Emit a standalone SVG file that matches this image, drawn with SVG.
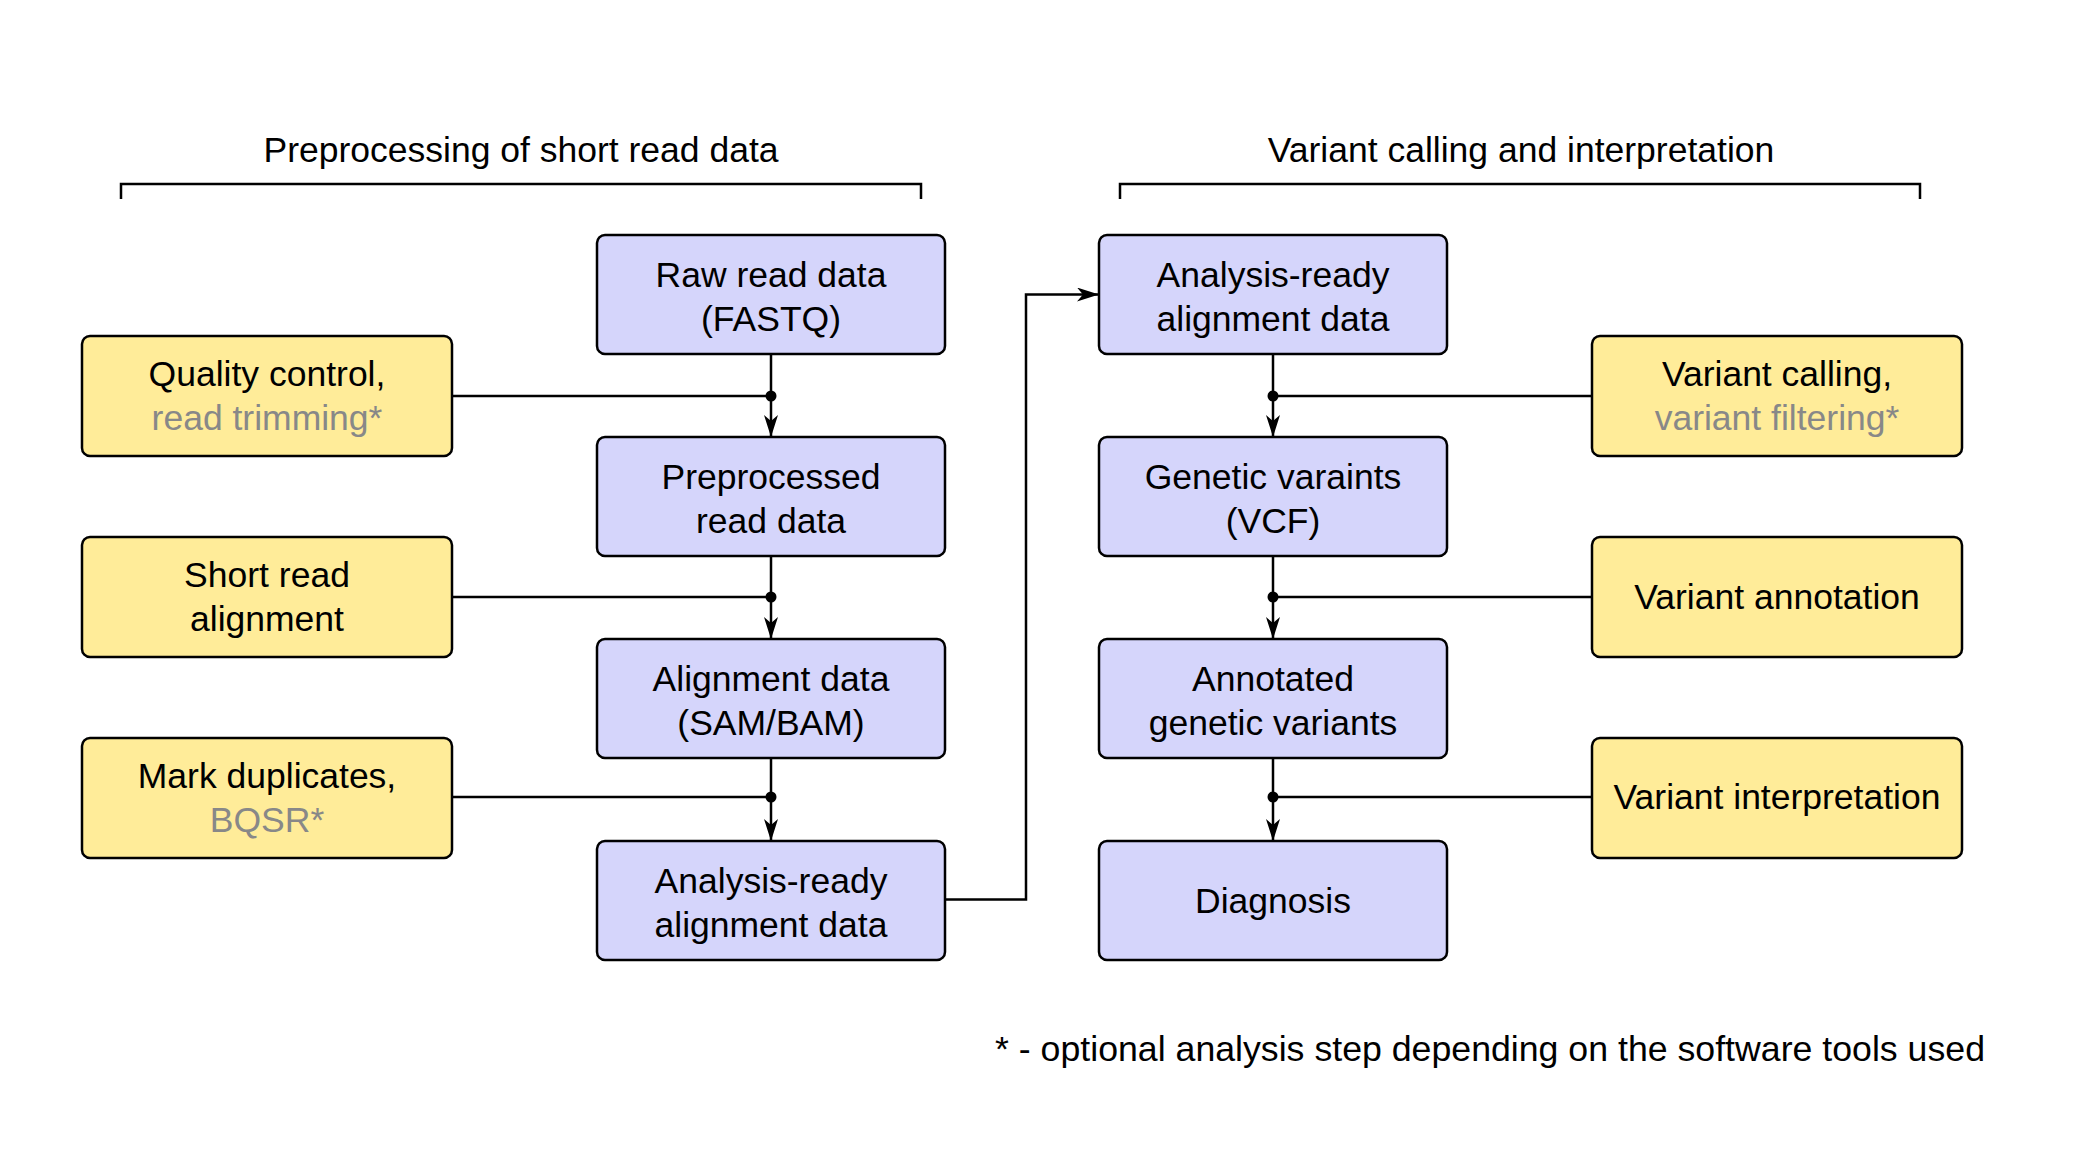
<svg xmlns="http://www.w3.org/2000/svg" width="2093" height="1163" viewBox="0 0 2093 1163">
<style>
text{font-family:"Liberation Sans",Arial,Helvetica,sans-serif;font-size:35.5px;fill:#000;text-anchor:middle}
.hd{font-size:35.5px}
.fn{font-size:35.7px;text-anchor:start}
.g{fill:#888888}
.blue{fill:#D5D5FB;stroke:#000;stroke-width:2.5}
.yel{fill:#FFEC99;stroke:#000;stroke-width:2.5}
.ln{fill:none;stroke:#000;stroke-width:2.5}
.br{fill:none;stroke:#000;stroke-width:2.5}
</style>
<defs>
<marker id="arr" markerUnits="userSpaceOnUse" markerWidth="24" markerHeight="14" viewBox="0 0 24 14" refX="22" refY="7" orient="auto">
<path d="M0,0 L22,7 L0,14 L6,7 Z" fill="#000"/>
</marker>
</defs>
<rect width="2093" height="1163" fill="#fff"/>

<g id="headings">
<text class="hd" x="521" y="162">Preprocessing of short read data</text>
<path class="br" d="M121,199 V184 H921 V199"/>
<text class="hd" x="1521" y="162">Variant calling and interpretation</text>
<path class="br" d="M1120,199 V184 H1920 V199"/>
</g>

<g id="connectors">
<line class="ln" x1="771" y1="354" x2="771" y2="437" marker-end="url(#arr)"/>
<line class="ln" x1="771" y1="556" x2="771" y2="639" marker-end="url(#arr)"/>
<line class="ln" x1="771" y1="758" x2="771" y2="841" marker-end="url(#arr)"/>
<line class="ln" x1="452" y1="396" x2="771" y2="396"/>
<line class="ln" x1="452" y1="597" x2="771" y2="597"/>
<line class="ln" x1="452" y1="797" x2="771" y2="797"/>
<circle cx="771" cy="396" r="5.5"/>
<circle cx="771" cy="597" r="5.5"/>
<circle cx="771" cy="797" r="5.5"/>
<path class="ln" d="M945,899.5 H1026 V294.5 H1099" marker-end="url(#arr)"/>
<line class="ln" x1="1273" y1="354" x2="1273" y2="437" marker-end="url(#arr)"/>
<line class="ln" x1="1273" y1="556" x2="1273" y2="639" marker-end="url(#arr)"/>
<line class="ln" x1="1273" y1="758" x2="1273" y2="841" marker-end="url(#arr)"/>
<line class="ln" x1="1273" y1="396" x2="1592" y2="396"/>
<line class="ln" x1="1273" y1="597" x2="1592" y2="597"/>
<line class="ln" x1="1273" y1="797" x2="1592" y2="797"/>
<circle cx="1273" cy="396" r="5.5"/>
<circle cx="1273" cy="597" r="5.5"/>
<circle cx="1273" cy="797" r="5.5"/>
</g>

<g id="raw">
<rect class="blue" x="597" y="235" width="348" height="119" rx="8"/>
<text x="771" y="287">Raw read data</text>
<text x="771" y="331">(FASTQ)</text>
</g>
<g id="preprocessed">
<rect class="blue" x="597" y="437" width="348" height="119" rx="8"/>
<text x="771" y="489">Preprocessed</text>
<text x="771" y="533">read data</text>
</g>
<g id="alignment">
<rect class="blue" x="597" y="639" width="348" height="119" rx="8"/>
<text x="771" y="691">Alignment data</text>
<text x="771" y="735">(SAM/BAM)</text>
</g>
<g id="analysis-left">
<rect class="blue" x="597" y="841" width="348" height="119" rx="8"/>
<text x="771" y="893">Analysis-ready</text>
<text x="771" y="937">alignment data</text>
</g>

<g id="qc">
<rect class="yel" x="82" y="336" width="370" height="120" rx="8"/>
<text x="267" y="386">Quality control,</text>
<text class="g" x="267" y="430">read trimming*</text>
</g>
<g id="sra">
<rect class="yel" x="82" y="537" width="370" height="120" rx="8"/>
<text x="267" y="587">Short read</text>
<text x="267" y="631">alignment</text>
</g>
<g id="markdup">
<rect class="yel" x="82" y="738" width="370" height="120" rx="8"/>
<text x="267" y="788">Mark duplicates,</text>
<text class="g" x="267" y="832">BQSR*</text>
</g>

<g id="analysis-right">
<rect class="blue" x="1099" y="235" width="348" height="119" rx="8"/>
<text x="1273" y="287">Analysis-ready</text>
<text x="1273" y="331">alignment data</text>
</g>
<g id="vcf">
<rect class="blue" x="1099" y="437" width="348" height="119" rx="8"/>
<text x="1273" y="489">Genetic varaints</text>
<text x="1273" y="533">(VCF)</text>
</g>
<g id="annotated">
<rect class="blue" x="1099" y="639" width="348" height="119" rx="8"/>
<text x="1273" y="691">Annotated</text>
<text x="1273" y="735">genetic variants</text>
</g>
<g id="diagnosis">
<rect class="blue" x="1099" y="841" width="348" height="119" rx="8"/>
<text x="1273" y="913">Diagnosis</text>
</g>

<g id="calling">
<rect class="yel" x="1592" y="336" width="370" height="120" rx="8"/>
<text x="1777" y="386">Variant calling,</text>
<text class="g" x="1777" y="430">variant filtering*</text>
</g>
<g id="annotation">
<rect class="yel" x="1592" y="537" width="370" height="120" rx="8"/>
<text x="1777" y="609">Variant annotation</text>
</g>
<g id="interpretation">
<rect class="yel" x="1592" y="738" width="370" height="120" rx="8"/>
<text x="1777" y="809">Variant interpretation</text>
</g>

<g id="footnote">
<text class="fn" x="995" y="1061">* - optional analysis step depending on the software tools used</text>
</g>
</svg>
